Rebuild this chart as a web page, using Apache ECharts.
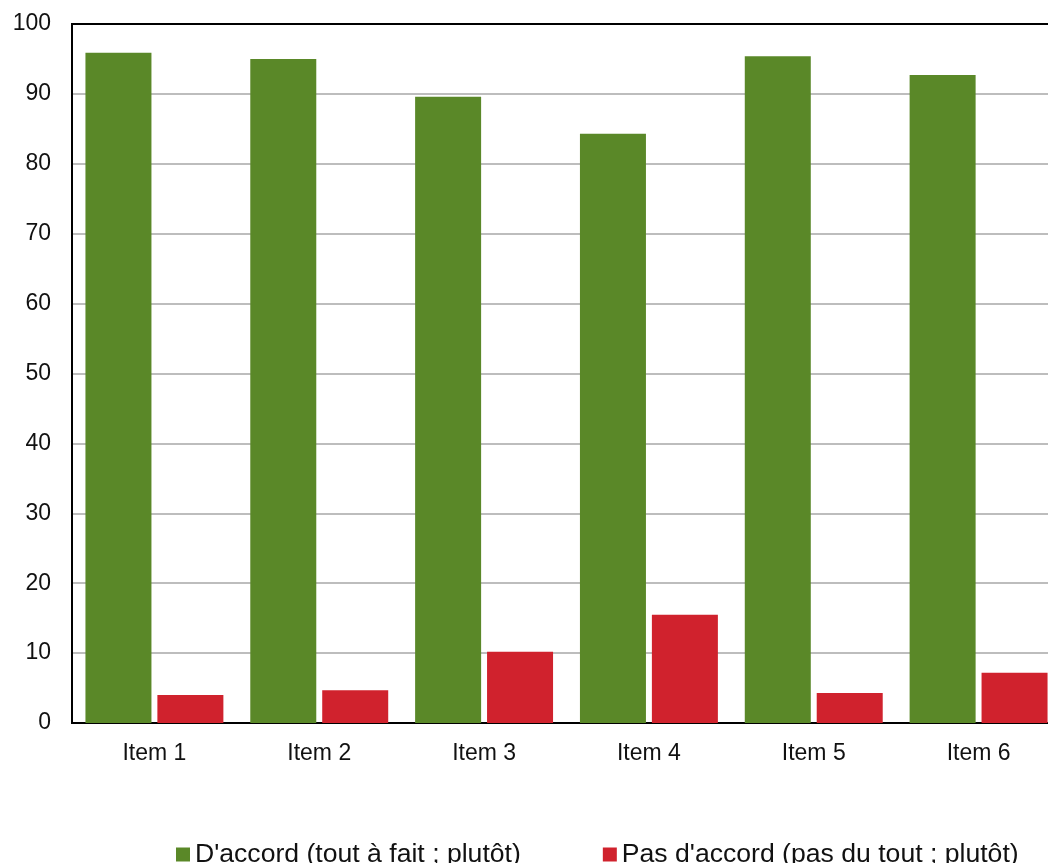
<!DOCTYPE html>
<html>
<head>
<meta charset="utf-8">
<script src="https://cdn.jsdelivr.net/npm/echarts@6/dist/echarts.min.js"></script>
<style>
  html, body { margin: 0; padding: 0; background: #fff; overflow: hidden; }
  #chart { width: 1062px; height: 863px; }
</style>
</head>
<body>
<div id="chart"></div>
<script>
const categories = ['Item 1', 'Item 2', 'Item 3', 'Item 4', 'Item 5', 'Item 6']
const agree = [95.9, 95.0, 89.6, 84.3, 95.4, 92.7]
const disagree = [4.0, 4.7, 10.2, 15.5, 4.3, 7.2]
const seriesNames = ["D'accord (tout à fait ; plutôt)", "Pas d'accord (pas du tout ; plutôt)"]

// the plot runs a bit past the right edge of the picture, so the canvas is wider than the window
const chart = echarts.init(document.getElementById('chart'))
chart.setOption({
  animation: false,
  textStyle: { fontFamily: 'Liberation Sans, Arial, sans-serif' },
  grid: {
    left: 72, right: 1, top: 24, bottom: 140,
    show: true, borderColor: '#000', borderWidth: 2, backgroundColor: 'transparent',
  },
  legend: {
    top: 836,
    left: 171,
    itemWidth: 14,
    itemHeight: 14,
    itemGap: 82,
    icon: 'rect',
    textStyle: { fontSize: 26.6, color: '#111' },
    data: seriesNames,
  },
  xAxis: {
    type: 'category',
    data: categories,
    axisTick: { show: false },
    axisLine: { lineStyle: { color: '#000', width: 2 } },
    axisLabel: { color: '#111', fontSize: 23, margin: 19 },
  },
  yAxis: {
    type: 'value',
    min: 0,
    max: 100,
    interval: 10,
    axisLine: { show: true, lineStyle: { color: '#000', width: 2 } },
    axisTick: { show: false },
    splitLine: { showMaxLine: false, lineStyle: { color: '#bdbdbd', width: 2 } },
    axisLabel: { color: '#111', fontSize: 23, margin: 21 },
  },
  series: [
    {
      name: seriesNames[0],
      type: 'bar',
      data: agree,
      barWidth: 66,
      barGap: '9%',
      itemStyle: { color: '#5a8828' },
    },
    {
      name: seriesNames[1],
      type: 'bar',
      data: disagree,
      barWidth: 66,
      barGap: '9%',
      itemStyle: { color: '#d0222d' },
    },
  ],
})
</script>
</body>
</html>
